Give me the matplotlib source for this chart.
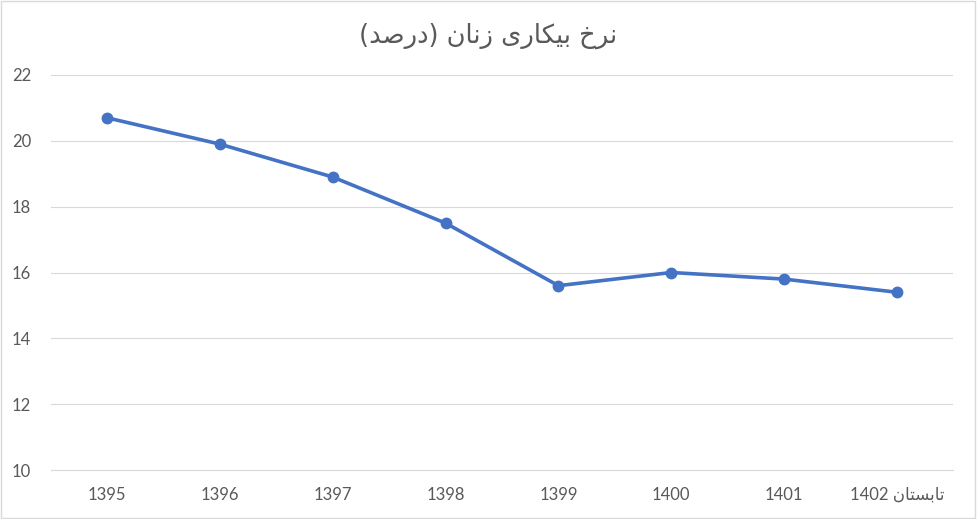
import matplotlib
matplotlib.use('Agg')
import matplotlib.pyplot as plt
from matplotlib.patches import Rectangle

# data
years = ['1395', '1396', '1397', '1398', '1399', '1400', '1401', '1402']
rate = [20.7, 19.9, 18.9, 17.5, 15.6, 16.0, 15.8, 15.4]
y_ticks = [10, 12, 14, 16, 18, 20, 22]
title_text = 'نرخ بیکاری زنان (درصد)'
last_prefix = 'تابستان'

# presentation forms: isolated, final, initial, medial (None -> no left join)
FORMS = {
    'ا': (0xFE8D, 0xFE8E, None, None),
    'ب': (0xFE8F, 0xFE90, 0xFE91, 0xFE92),
    'ت': (0xFE95, 0xFE96, 0xFE97, 0xFE98),
    'خ': (0xFEA5, 0xFEA6, 0xFEA7, 0xFEA8),
    'د': (0xFEA9, 0xFEAA, None, None),
    'ر': (0xFEAD, 0xFEAE, None, None),
    'ز': (0xFEAF, 0xFEB0, None, None),
    'س': (0xFEB1, 0xFEB2, 0xFEB3, 0xFEB4),
    'ص': (0xFEB9, 0xFEBA, 0xFEBB, 0xFEBC),
    'ن': (0xFEE5, 0xFEE6, 0xFEE7, 0xFEE8),
    'ک': (0xFB8E, 0xFB8F, 0xFB90, 0xFB91),
    'ی': (0xFBFC, 0xFBFD, 0xFBFE, 0xFBFF),
}


def shape(s):
    # join arabic letters, then put into visual (left to right) order
    out = []
    for i, c in enumerate(s):
        if c not in FORMS:
            out.append(c)
            continue
        f = FORMS[c]
        prev = s[i - 1] if i > 0 else ''
        nxt = s[i + 1] if i + 1 < len(s) else ''
        jp = prev in FORMS and FORMS[prev][2] is not None
        jn = nxt in FORMS and f[2] is not None
        if jp and jn:
            code = f[3]
        elif jp:
            code = f[1]
        elif jn:
            code = f[2]
        else:
            code = f[0]
        out.append(chr(code))
    vis = ''.join(reversed(out))
    return vis.translate(str.maketrans('()', ')('))


plt.rcParams['font.family'] = ['Lato', 'DejaVu Sans']
grey = '#595959'

fig = plt.figure(figsize=(9.77, 5.19), dpi=100)
ax = fig.add_axes([0.0518, 0.0944, 0.924, 0.7611])

x = list(range(len(years)))
ax.plot(x, rate, color='#4472C4', lw=2.6, marker='o', ms=7.5, zorder=3)

ax.set_xlim(-0.5, len(years) - 0.5)
ax.set_ylim(10, 22)
ax.set_yticks(y_ticks)
ax.set_yticklabels([str(v) for v in y_ticks], fontsize=12, color=grey)
labels = years[:-1] + [years[-1] + ' ' + shape(last_prefix)]
ax.set_xticks(x)
ax.set_xticklabels(labels, fontsize=12, color=grey)
ax.tick_params(axis='both', length=0)
ax.tick_params(axis='y', pad=14)
ax.tick_params(axis='x', pad=12)
ax.grid(axis='y', color='#d9d9d9', lw=0.8)
for s in ['top', 'right', 'left']:
    ax.spines[s].set_visible(False)
ax.spines['bottom'].set_color('#d9d9d9')
ax.spines['bottom'].set_linewidth(0.8)

fig.text(0.5, 0.93, shape(title_text), ha='center', va='center',
         fontsize=18.5, color=grey, family=['DejaVu Sans'])

fig.patches.append(Rectangle((0.001, 0.002), 0.997, 0.996, transform=fig.transFigure,
                             fill=False, ec='#d9d9d9', lw=1))

fig.savefig('out.png', dpi=100)
